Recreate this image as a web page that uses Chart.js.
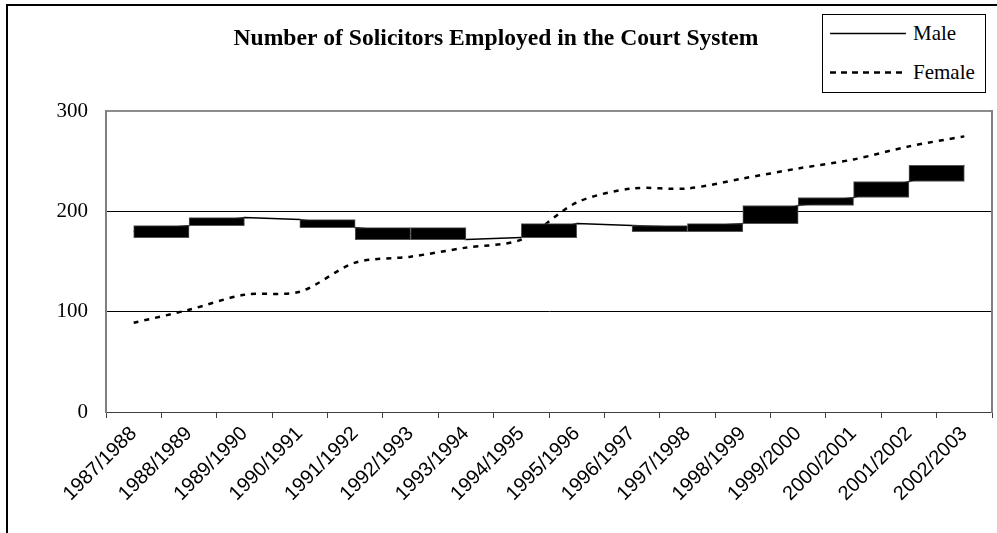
<!DOCTYPE html>
<html>
<head>
<meta charset="utf-8">
<script src="https://cdn.jsdelivr.net/npm/chart.js@4.4.1/dist/chart.umd.min.js"></script>
<style>
  body { margin: 0; background: #fff; }
  #wrap { position: relative; width: 997px; height: 533px; overflow: hidden; }
  #frame { position: absolute; left: 6px; top: 4px; width: 1200px; height: 800px;
           border-left: 2px solid #000; border-top: 2px solid #000; pointer-events: none; }
  #legend { position: absolute; left: 822px; top: 14px; width: 162px; height: 77px;
            border: 1px solid #000; background: #fff;
            font-family: 'Liberation Serif', serif; font-size: 21px; color: #000; }
  #legend .row { position: absolute; left: 0; height: 24px; line-height: 24px; }
  #legend svg { position: absolute; left: 7px; top: 11px; }
  #legend span { position: absolute; left: 90px; top: 0; white-space: nowrap; }
</style>
</head>
<body>
<div id="wrap">
  <canvas id="chart" width="997" height="533"></canvas>
  <div id="frame"></div>
  <div id="legend">
    <div class="row" style="top:6px">
      <svg width="76" height="3"><line x1="0" y1="1.5" x2="76" y2="1.5" stroke="#000" stroke-width="1.7"/></svg>
      <span>Male</span>
    </div>
    <div class="row" style="top:45px">
      <svg width="76" height="3"><line x1="0" y1="1.5" x2="76" y2="1.5" stroke="#000" stroke-width="2.5" stroke-dasharray="6 5"/></svg>
      <span>Female</span>
    </div>
  </div>
</div>
<script>
// data
const categories = ['1987/1988', '1988/1989', '1989/1990', '1990/1991', '1991/1992', '1992/1993',
  '1993/1994', '1994/1995', '1995/1996', '1996/1997', '1997/1998', '1998/1999',
  '1999/2000', '2000/2001', '2001/2002', '2002/2003'];
const maleValues = [180, 186, 194, 192, 184, 178, 172, 174, 188, 186, 184, 188, 206, 214, 230, 246];
const femaleValues = [89, 102, 117, 120, 149, 155, 164, 172, 209, 223, 223, 233, 243, 252, 265, 275];
// black blocks between one year and the next (null = no block)
const boxLow = [174, 186, null, 184, 172, 172, null, 174, null, 180, 180, 188, 206, 214, 230];
const boxHigh = [186, 194, null, 192, 184, 184, null, 188, null, 186, 188, 206, 214, 230, 246];
const yTicks = [0, 100, 200, 300];

const serif = 'Liberation Serif';
const sans = 'Liberation Sans';

// block i sits between category i and i+1 (the 'xb' axis is shifted by half a category)
const boxData = boxLow
  .map((lo, i) => (lo == null ? null : { x: i, y: [lo, boxHigh[i]] }))
  .filter(Boolean);

new Chart(document.getElementById('chart'), {
  type: 'line',
  data: {
    labels: categories,
    datasets: [
      {
        type: 'bar',
        label: 'blocks',
        data: boxData,
        xAxisID: 'xb',
        yAxisID: 'y',
        backgroundColor: '#000',
        borderColor: '#555',
        borderWidth: 1,
        borderSkipped: false,
        grouped: false,
        barPercentage: 1,
        categoryPercentage: 1,
        order: 0
      },
      {
        label: 'Male',
        data: maleValues,
        xAxisID: 'x',
        borderColor: '#000',
        borderWidth: 1.5,
        pointRadius: 0,
        tension: 0,
        order: 1
      },
      {
        label: 'Female',
        data: femaleValues,
        xAxisID: 'x',
        borderColor: '#000',
        borderWidth: 2.5,
        borderDash: [5, 6],
        pointRadius: 0,
        tension: 0.3,
        order: 1
      }
    ]
  },
  options: {
    responsive: false,
    animation: false,
    layout: { padding: { left: 0, right: 5, top: 0, bottom: 0 } },
    plugins: {
      legend: { display: false },
      tooltip: { enabled: false },
      title: {
        display: true,
        text: 'Number of Solicitors Employed in the Court System',
        color: '#000',
        font: { family: serif, size: 23.6, weight: 'bold' },
        padding: { top: 25, bottom: 58 }
      }
    },
    scales: {
      x: {
        type: 'category',
        offset: true,
        grid: { offset: true, drawOnChartArea: false, tickLength: 6, color: '#404040' },
        border: { color: '#404040' },
        ticks: {
          color: '#000',
          font: { family: sans, size: 20 },
          minRotation: 45,
          maxRotation: 45,
          autoSkip: false,
          padding: 4
        },
        afterFit: (s) => { s.height = 121; }
      },
      xb: {
        type: 'linear',
        display: false,
        offset: false,
        grid: { offset: false },
        min: -1,
        max: 15,
        ticks: { stepSize: 1 },
        afterBuildTicks: (s) => { s.ticks = []; }
      },
      y: {
        min: 0,
        max: 300,
        afterBuildTicks: (s) => { s.ticks = yTicks.map(v => ({ value: v })); },
        grid: {
          drawTicks: false,
          color: (c) => (c.tick.value === 300 ? '#8c8c8c' : c.tick.value === 0 ? '#404040' : '#000'),
          lineWidth: (c) => (c.tick.value === 300 ? 2 : 1)
        },
        border: { color: '#808080', width: 2 },
        ticks: { color: '#000', font: { family: serif, size: 21 }, padding: 18 },
        afterFit: (s) => { s.width = 106; }
      },
      yr: {
        position: 'right',
        min: 0,
        max: 300,
        ticks: { display: false },
        grid: { drawOnChartArea: false, drawTicks: false },
        border: { color: '#808080', width: 2 },
        afterFit: (s) => { s.width = 0; }
      }
    }
  }
});
</script>
</body>
</html>
